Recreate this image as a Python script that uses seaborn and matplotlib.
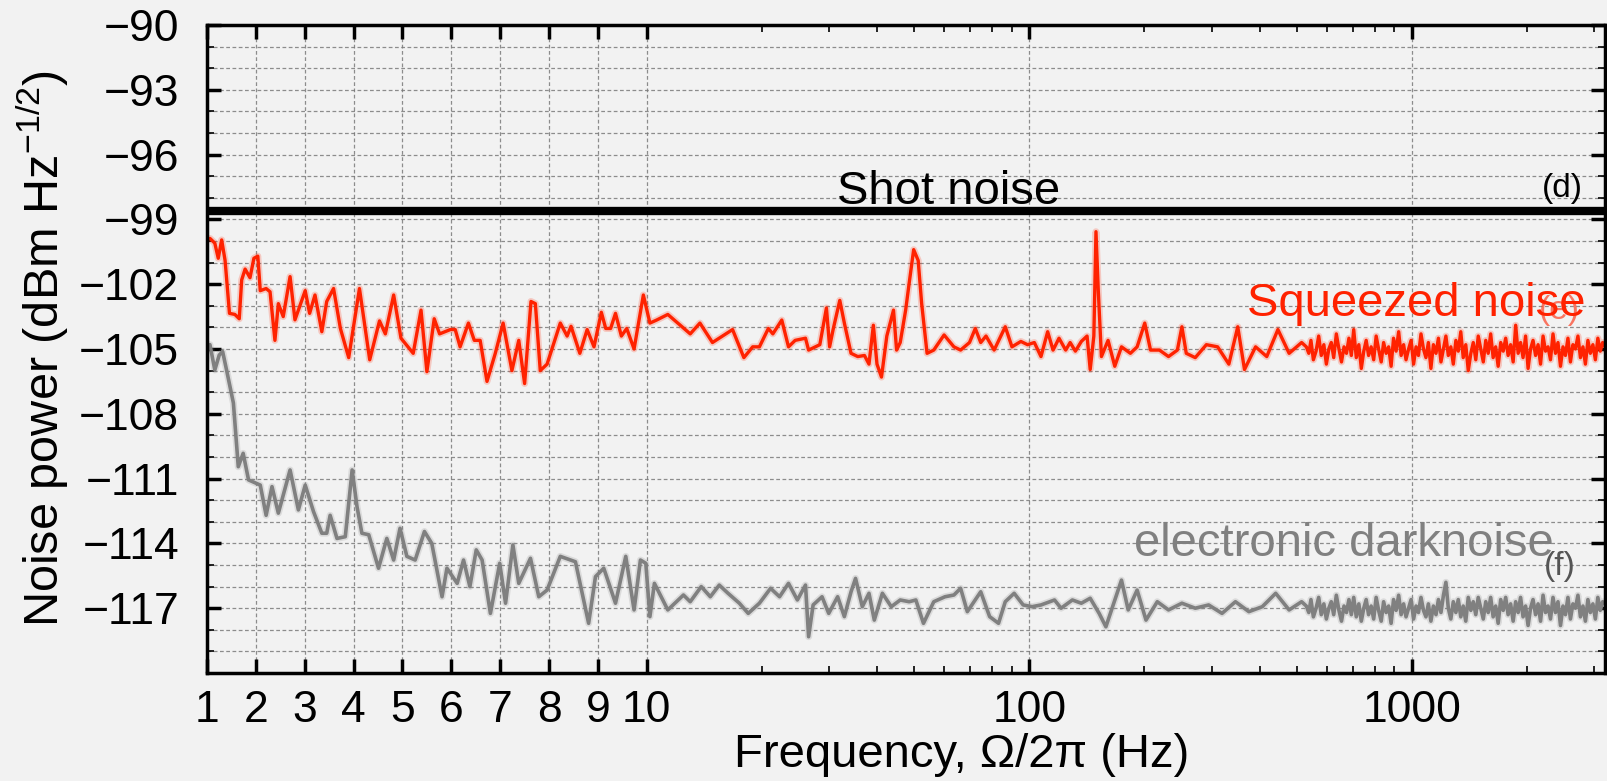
import numpy as np
import pandas as pd
import matplotlib
matplotlib.use("Agg")
import matplotlib.pyplot as plt
import seaborn as sns
from matplotlib.ticker import FixedLocator, FixedFormatter, MultipleLocator, NullFormatter

# ---------------- data ----------------
red_f = [1.06, 1.16, 1.23, 1.30, 1.37, 1.46, 1.57, 1.66, 1.71, 1.78,
         1.88, 1.96, 2.04, 2.09, 2.21, 2.29, 2.39, 2.46, 2.56, 2.70,
         2.80, 3.01, 3.10, 3.21, 3.35, 3.45, 3.59, 3.73, 3.90, 4.12,
         4.33, 4.53, 4.65, 4.82, 4.97, 5.22, 5.38, 5.50, 5.65, 5.76,
         5.98, 6.08, 6.18, 6.35, 6.47, 6.59, 6.73, 6.90, 7.06, 7.24,
         7.38, 7.50, 7.63, 7.72, 7.82, 7.96, 8.23, 8.37, 8.45, 8.63,
         8.78, 8.92, 9.07, 9.16, 9.26, 9.36, 9.48, 9.59, 9.74, 9.93,
         10.19, 10.61, 11.35, 12.99, 13.77, 14.85, 16.76, 17.94, 18.92, 19.70,
         20.79, 21.36, 22.54, 23.47, 24.43, 26.00, 26.49, 28.34, 29.49, 30.06,
         30.70, 31.96, 32.85, 34.20, 35.61, 37.08, 38.10, 39.12, 39.98, 41.08,
         42.42, 44.16, 44.99, 45.98, 47.51, 48.53, 49.86, 51.23, 52.32, 54.05,
         56.27, 59.88, 63.53, 66.14, 69.78, 72.26, 74.65, 77.08, 80.93, 86.54,
         90.10, 95.06, 98.97, 103.1, 107.3, 111.7, 115.4, 119.6, 124.5, 127.9,
         132.0, 136.8, 141.6, 144.3, 147.5, 149.4, 151.5, 154.4, 160.7, 167.3,
         174.2, 183.8, 191.4, 200.4, 207.5, 218.9, 231.2, 243.9, 250.6, 257.3,
         271.6, 290.4, 310.7, 332.5, 350.8, 365.3, 390.5, 417.7, 446.7, 477.9,
         515.2]
red_db = [-99.88, -100.1, -100.8, -99.95, -100.9, -103.35, -103.4, -103.6, -101.8, -101.3,
          -101.7, -100.8, -100.7, -102.3, -102.2, -102.35, -104.6, -102.9, -103.5, -101.65,
          -103.65, -102.3, -103.35, -102.5, -104.2, -102.8, -102.2, -104.05, -105.4, -102.2,
          -105.5, -103.7, -104.3, -102.5, -104.5, -105.2, -103.2, -106.05, -103.6, -104.3,
          -104.1, -104.1, -104.9, -103.8, -104.6, -104.6, -106.5, -105.2, -103.8, -106.0,
          -104.6, -106.6, -102.8, -102.9, -106.0, -105.7, -103.8, -104.4, -103.95, -105.2,
          -104.1, -104.9, -103.3, -104.05, -104.05, -103.35, -104.4, -104.05, -105.0, -102.5,
          -103.8, -103.66, -103.4, -104.3, -103.8, -104.7, -104.1, -105.4, -104.9, -104.9,
          -104.05, -104.3, -103.66, -104.9, -104.6, -104.5, -105.05, -104.8, -103.1, -104.9,
          -104.1, -102.75, -103.8, -105.2, -105.35, -105.3, -105.7, -103.9, -105.7, -106.3,
          -104.4, -103.2, -105.05, -104.7, -103.2, -101.95, -100.4, -100.9, -102.9, -105.2,
          -105.05, -104.35, -104.9, -105.05, -104.7, -104.05, -104.7, -104.4, -105.05, -103.97,
          -104.9, -104.65, -104.8, -104.7, -105.35, -104.2, -105.05, -104.5, -105.05, -104.7,
          -105.1, -104.65, -104.4, -105.95, -104.4, -99.57, -102.3, -105.35, -104.6, -105.8,
          -104.9, -105.2, -104.9, -103.8, -105.05, -105.05, -105.35, -105.05, -103.97, -105.2,
          -105.4, -104.8, -104.9, -105.7, -103.97, -105.95, -104.9, -105.35, -104.1, -105.2,
          -104.7]

gray_f = [1.06, 1.16, 1.25, 1.32, 1.40, 1.54, 1.64, 1.74, 1.85, 2.09,
          2.21, 2.33, 2.46, 2.70, 2.87, 3.01, 3.18, 3.35, 3.45, 3.52,
          3.66, 3.83, 3.97, 4.07, 4.17, 4.31, 4.51, 4.68, 4.82, 4.95,
          5.09, 5.26, 5.45, 5.60, 5.81, 5.91, 6.12, 6.25, 6.38, 6.51,
          6.63, 6.80, 6.99, 7.11, 7.26, 7.38, 7.62, 7.79, 7.96, 8.23,
          8.54, 8.81, 8.95, 9.12, 9.36, 9.57, 9.74, 9.87, 9.98,
          10.19, 10.47, 11.35, 12.47, 12.99, 13.88, 14.66, 15.47, 16.31, 17.46,
          18.42, 19.70, 21.07, 22.24, 23.47, 24.76, 26.00, 26.49, 27.22, 28.72,
          29.90, 31.55, 32.85, 34.20, 35.14, 36.60, 38.10, 39.34, 41.30, 43.58,
          45.98, 48.53, 50.52, 52.89, 56.27, 60.21, 63.53, 66.14, 68.87, 74.65,
          78.77, 83.10, 86.54, 91.31, 96.38, 101.7, 107.3, 116.4, 121.1, 129.6,
          136.8, 144.3, 152.3, 158.6, 165.1, 174.2, 181.4, 191.4, 201.9, 216.1,
          231.2, 250.6, 271.6, 294.4, 319.1, 345.9, 375.1, 406.6, 440.8, 477.9,
          515.2]
gray_db = [-104.8, -105.97, -105.28, -105.12, -105.97, -107.5, -110.45, -109.83, -111.06, -111.3,
           -112.7, -111.37, -112.6, -110.6, -112.45, -111.3, -112.53, -113.53, -113.53, -112.7,
           -113.77, -113.69, -110.6, -112.3, -113.53, -113.6, -115.15, -113.77, -114.77, -113.3,
           -114.6, -114.77, -113.45, -114.0, -116.47, -115.15, -115.85, -114.77, -116.0, -114.3,
           -114.77, -117.24, -114.92, -116.77, -114.07, -115.85, -114.69, -116.47, -116.16, -114.6,
           -114.85, -117.7, -115.54, -115.15, -116.77, -114.6, -117.08, -114.77, -114.92,
           -117.39, -115.85, -117.08, -116.39, -116.7, -116.0, -116.47, -115.93, -116.31, -116.77,
           -117.24, -116.77, -116.08, -116.47, -115.85, -116.62, -115.93, -118.32, -116.85, -116.47,
           -117.24, -116.47, -117.39, -116.24, -115.62, -116.93, -116.31, -117.55, -116.31, -116.93,
           -116.62, -116.7, -116.62, -117.7, -116.7, -116.47, -116.39, -116.08, -117.16, -116.24,
           -117.39, -117.7, -116.7, -116.31, -116.85, -116.93, -116.85, -116.62, -117.0, -116.62,
           -116.77, -116.54, -117.24, -117.86, -116.93, -115.7, -117.08, -116.16, -117.55, -116.7,
           -117.08, -116.77, -117.0, -116.85, -117.24, -116.7, -117.16, -116.93, -116.31, -117.08,
           -116.7]

# high-frequency part (shared frequency bins)
hi_f = [530, 538, 545, 553, 562, 571, 580, 589, 598, 607,
        616, 625, 635, 645, 655, 665, 675, 685, 695, 705,
        716, 727, 738, 749, 760, 771, 783, 795, 807, 819,
        832, 844, 857, 870, 883, 896, 910, 924, 938, 952,
        966, 981, 996, 1011, 1026, 1041, 1057, 1073, 1089, 1105,
        1122, 1139, 1157, 1174, 1192, 1210, 1228, 1246, 1265, 1284,
        1304, 1323, 1343, 1363, 1384, 1405, 1427, 1448, 1470, 1492,
        1515, 1538, 1561, 1584, 1608, 1632, 1657, 1682, 1708, 1734,
        1760, 1786, 1813, 1841, 1869, 1897, 1925, 1954, 1984, 2014,
        2044, 2075, 2107, 2139, 2171, 2204, 2237, 2271, 2305, 2340,
        2375, 2411, 2448, 2485, 2522, 2560, 2599, 2638, 2678, 2719,
        2760, 2802, 2844, 2887, 2930, 2975, 3020, 3065, 3110, 3155,
        3200]
red_hi = [-104.9, -105.2, -104.6, -105.5, -105.1, -104.4, -105.3, -104.8, -105.7, -105.0,
          -104.7, -105.4, -104.3, -105.0, -105.6, -104.9, -105.2, -104.5, -105.3, -104.1,
          -105.4, -104.8, -105.9, -105.1, -104.6, -105.3, -104.9, -105.5, -104.4, -105.0,
          -105.6, -104.7, -105.2, -104.9, -105.8, -104.5, -105.1, -104.2, -105.3, -104.8,
          -105.5, -105.0, -104.6, -105.7, -104.9, -105.3, -104.3, -105.0, -105.4, -104.7,
          -105.9, -104.8, -105.2, -104.5, -105.6, -105.0, -104.4, -105.3, -104.9, -105.7,
          -104.6, -105.1, -104.2, -105.4, -104.8, -106.0, -105.2, -104.7, -105.5, -104.4,
          -105.0, -105.6, -104.6, -105.2, -104.3, -105.4, -104.9, -105.8, -104.7, -105.1,
          -104.5, -105.3, -104.8, -105.6, -103.9, -105.2, -104.7, -105.4, -104.4, -105.9,
          -105.0, -104.6, -105.3, -104.8, -105.7, -104.4, -105.1, -104.9, -105.5, -104.3,
          -105.2, -104.7, -105.8, -104.9, -105.3, -104.5, -105.6, -104.8, -105.0, -104.4,
          -105.4, -104.9, -105.7, -104.6, -105.2, -104.8, -105.5, -104.5, -105.1, -104.7,
          -104.9]
gray_hi = [-116.9, -117.2, -116.6, -117.4, -117.0, -116.5, -117.3, -116.8, -117.5, -117.0,
           -116.7, -117.3, -116.4, -117.1, -117.6, -116.9, -117.2, -116.6, -117.3, -116.5,
           -117.4, -116.8, -117.6, -117.0, -116.6, -117.3, -116.9, -117.5, -116.5, -117.1,
           -117.6, -116.7, -117.2, -116.9, -117.7, -116.6, -117.1, -116.4, -117.3, -116.8,
           -117.4, -117.0, -116.6, -117.5, -116.9, -117.2, -116.5, -117.1, -117.4, -116.8,
           -117.6, -116.9, -117.3, -116.6, -117.2, -116.4, -115.8, -117.0, -117.5, -116.7,
           -117.2, -116.6, -117.4, -116.9, -117.6, -116.5, -117.1, -116.7, -117.3, -116.5,
           -117.0, -117.5, -116.7, -117.2, -116.5, -117.4, -116.9, -117.7, -116.6, -117.1,
           -116.5, -117.3, -116.8, -117.6, -116.7, -117.2, -116.5, -117.4, -116.9, -117.8,
           -117.0, -116.6, -117.3, -116.8, -117.6, -116.4, -117.2, -116.9, -117.5, -116.5,
           -117.2, -116.7, -117.8, -116.9, -117.3, -116.5, -117.5, -116.8, -117.0, -116.4,
           -117.4, -116.9, -117.6, -116.6, -117.2, -116.8, -117.5, -116.5, -117.1, -116.7,
           -116.8]

shot_noise_db = -98.6

x_major = [1, 2, 3, 4, 5, 6, 7, 8, 9, 10, 100, 1000]
x_major_labels = ["1", "2", "3", "4", "5", "6", "7", "8", "9", "10", "100", "1000"]
x_minor = [20, 30, 40, 50, 60, 70, 80, 90, 200, 300, 400, 500, 600, 700, 800, 900, 2000, 3000]
y_ticks = [-90, -93, -96, -99, -102, -105, -108, -111, -114, -117]

# ---------------- style ----------------
sns.set_theme(style="ticks")
plt.rcParams["font.family"] = ["Liberation Sans", "DejaVu Sans"]
plt.rcParams["mathtext.fontset"] = "custom"
plt.rcParams["mathtext.rm"] = "Liberation Sans"
plt.rcParams["mathtext.it"] = "Liberation Sans:italic"
plt.rcParams["axes.unicode_minus"] = True

BG = "#f2f2f2"
RED = "#ff2200"
GRAY = "#808080"

fig = plt.figure(figsize=(16.08, 7.81), dpi=100, facecolor=BG)
ax = fig.add_axes([207 / 1608, 108 / 781, 1398 / 1608, 648 / 781])
ax.set_facecolor(BG)

# piecewise x scale: linear 1..10, logarithmic above 10
K = 48.8 / 382.0


def fwd(f):
    f = np.asarray(f, dtype=float)
    lin = (f - 1.0) * K
    lg = 9 * K + np.log10(np.maximum(f, 1e-12) / 10.0)
    return np.where(f <= 10, lin, lg)


def inv(u):
    u = np.asarray(u, dtype=float)
    return np.where(u <= 9 * K, 1.0 + u / K, 10.0 * np.power(10.0, np.minimum(u - 9 * K, 20)))


ax.set_xscale("function", functions=(fwd, inv))

df_red = pd.DataFrame({"f": red_f + hi_f, "db": red_db + red_hi})
df_gray = pd.DataFrame({"f": gray_f + hi_f, "db": gray_db + gray_hi})

sns.lineplot(data=df_red, x="f", y="db", color=RED, lw=5, alpha=0.2, ax=ax, estimator=None, sort=False)
sns.lineplot(data=df_red, x="f", y="db", color=RED, lw=2.4, ax=ax, estimator=None, sort=False)
sns.lineplot(data=df_gray, x="f", y="db", color=GRAY, lw=5, alpha=0.2, ax=ax, estimator=None, sort=False)
sns.lineplot(data=df_gray, x="f", y="db", color=GRAY, lw=2.6, ax=ax, estimator=None, sort=False)

ax.axhline(shot_noise_db, color="black", lw=6, zorder=3)

ax.set_xlim(1, 3200)
ax.set_ylim(-120, -90)

ax.xaxis.set_major_locator(FixedLocator(x_major))
ax.xaxis.set_major_formatter(FixedFormatter(x_major_labels))
ax.xaxis.set_minor_locator(FixedLocator(x_minor))
ax.xaxis.set_minor_formatter(NullFormatter())
ax.yaxis.set_major_locator(FixedLocator(y_ticks))
ax.yaxis.set_major_formatter(FixedFormatter(["\u2212" + str(abs(v)) for v in y_ticks]))
ax.yaxis.set_minor_locator(MultipleLocator(1))

ax.tick_params(which="both", direction="in", top=True, right=True, colors="black")
ax.tick_params(which="major", length=10, width=2.5, labelsize=32)
ax.tick_params(which="minor", length=5, width=1.2)
ax.tick_params(axis="y", which="major", pad=20)
ax.tick_params(axis="x", which="major", pad=12)

ax.grid(False)
grid_kw = dict(color="#7a7a7a", linestyle=(0, (3, 2)), linewidth=0.9, alpha=0.85)
ax.xaxis.grid(True, which="major", **grid_kw)
ax.yaxis.grid(True, which="both", **grid_kw)
ax.set_axisbelow(True)

for sp in ax.spines.values():
    sp.set_linewidth(2.5)
    sp.set_color("black")

ax.set_ylabel("Noise power (dBm Hz$^{\\mathregular{-1/2}}$)", fontsize=35, labelpad=6, color="black")
ax.set_xlabel("Frequency, \u03a9/2\u03c0 (Hz)", fontsize=34, color="black")
ax.xaxis.set_label_coords(0.54, -0.092)

ax.text(31.4, -98.3, "Shot noise", fontsize=34, color="black", ha="left", va="baseline")
ax.text(370, -103.45, "Squeezed noise", fontsize=34, color=RED, ha="left", va="baseline")
ax.text(188, -114.6, "electronic darknoise", fontsize=34, color=GRAY, ha="left", va="baseline")
ax.text(2190, -97.95, "(d)", fontsize=24, color="black", ha="left", va="baseline")
ax.text(2150, -103.6, "(e)", fontsize=24, color=RED, alpha=0.6, ha="left", va="baseline")
ax.text(2215, -115.45, "(f)", fontsize=24, color="#555555", ha="left", va="baseline")

fig.savefig("out.png", dpi=100, facecolor=BG)
